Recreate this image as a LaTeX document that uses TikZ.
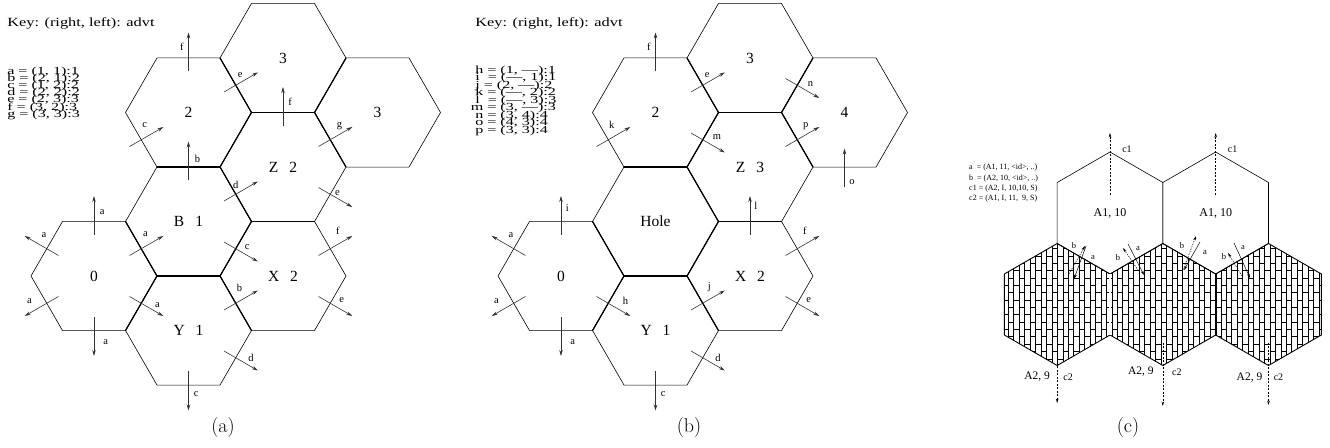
\documentclass[tikz,border=0pt]{standalone}
\usepackage{fontspec}
\newfontfamily\tms{Liberation Serif}
\usetikzlibrary{calc,patterns,arrows.meta}

% vertical bricks for the closed cells of (c)
\pgfdeclarepatternformonly{vbricks}{\pgfqpoint{-1pt}{-1pt}}{\pgfqpoint{12pt}{16pt}}{\pgfqpoint{10.9pt}{14.7pt}}{%
  \pgfsetlinewidth{0.5pt}%
  \pgfpathmoveto{\pgfqpoint{0pt}{0pt}}\pgfpathlineto{\pgfqpoint{0pt}{14.7pt}}%
  \pgfpathmoveto{\pgfqpoint{5.45pt}{0pt}}\pgfpathlineto{\pgfqpoint{5.45pt}{14.7pt}}%
  \pgfpathmoveto{\pgfqpoint{0pt}{0pt}}\pgfpathlineto{\pgfqpoint{5.45pt}{0pt}}%
  \pgfpathmoveto{\pgfqpoint{5.45pt}{7.35pt}}\pgfpathlineto{\pgfqpoint{10.9pt}{7.35pt}}%
  \pgfusepath{stroke}}

\tikzset{
  hexline/.style={line width=0.6pt},
  wallline/.style={line width=1.2pt},
  advt/.style={->, line width=0.6pt, black!80},
  lab/.style={font=\tms\fontsize{10.5}{12}\selectfont, inner sep=1pt, black},
  hexlab/.style={font=\tms\fontsize{15.5}{18}\selectfont, inner sep=0pt},
  keytext/.style={font=\tms\fontsize{12.5}{14}\selectfont, anchor=west, inner sep=0pt, xscale=1.31},
  listtext/.style={font=\tms\fontsize{10.8}{13}\selectfont, anchor=west, inner sep=0pt, xscale=1.49},
  subcap/.style={font=\fontsize{20}{24}\selectfont, inner sep=0pt},
  ckey/.style={font=\tms\fontsize{8}{10}\selectfont, anchor=west, inner sep=0pt},
  cname/.style={font=\tms\fontsize{12}{14}\selectfont, inner sep=0pt},
  cside/.style={font=\tms\fontsize{11.5}{13}\selectfont, inner sep=1pt},
  csmall/.style={font=\tms\fontsize{10}{12}\selectfont, inner sep=1pt},
  ctiny/.style={font=\tms\fontsize{8.5}{10}\selectfont, inner sep=0pt},
  cellline/.style={line width=0.6pt},
  brick/.style={line width=0.9pt, pattern=vbricks},
  cflow/.style={-{Stealth[length=4.5pt,width=2.6pt]}, line width=0.5pt, dash pattern=on 2pt off 1.5pt},
  cmsg/.style={-{Stealth[length=4.5pt,width=2.6pt]}, line width=0.5pt},
  cmsgb/.style={cmsg, dash pattern=on 1.5pt off 1.2pt}
}

\newcommand{\panelx}{0}
\newcommand{\hgap}{\hspace{11pt}}
% flat hexagon at axial place (q,r)
\newcommand{\hexf}[4]{%
  \node[hexlab] (#1) at ({\panelx+94+94.5*#2},{171+109*(#3)+54.5*#2}) {#4};
  \draw[hexline] (#1.center) ++(0:63) -- ++(120:63) -- ++(180:63) -- ++(240:63) -- ++(300:63) -- ++(0:63) -- cycle;}
% shared edge of two cells
\newcommand{\wall}[2]{\draw[wallline] ($(#1)!.5!(#2)!.5774!90:(#2)$) -- ($(#1)!.5!(#2)!.5774!-90:(#2)$);}
% advertisement out of / into a cell
\newcommand{\advt}[5]{\draw[advt] ($(#1)+(#2:41)$) -- ($(#1)+(#2:80)$) node[lab, pos=#5, #4] (#1-#2) {#3};}
\newcommand{\advtin}[5]{\draw[advt] ($(#1)+(#2:68)$) -- ($(#1)+(#2:29)$) node[lab, pos=#5, #4] (#1-in#2) {#3};}
% pointed hexagon for (c)
\newcommand{\hexp}[5]{%
  \node[cname] (#1) at (#2,#3) {#4};
  \draw[#5] (#1.center) ++(30:61) -- ++(150:61) -- ++(210:61) -- ++(270:61) -- ++(330:61) -- ++(30:61) -- cycle;}

\begin{document}
\begin{tikzpicture}[x=1pt, y=1pt, >={Stealth[length=6pt,width=3.5pt]}]
\useasboundingbox (0,0) rectangle (1330,447);

% (a)
\hexf{a0}{0}{0}{0}
\hexf{aB}{1}{0}{B\hgap1}
\hexf{aY}{1}{-1}{Y\hgap1}
\hexf{a2}{1}{1}{2}
\hexf{aX}{2}{-1}{X\hgap2}
\hexf{aZ}{2}{0}{Z\hgap2}
\hexf{aT}{2}{1}{3}
\hexf{aR}{3}{0}{3}
\foreach \p/\q in {a2/aT, a2/aZ, a2/aB, aT/aZ, aT/aR, aR/aZ, aZ/aB, aZ/aX, aB/a0, aB/aY, aB/aX, a0/aY, aY/aX}
  \wall{\p}{\q};
\advt{a2}{90}{f}{left=3.5pt}{.63}
\advt{a2}{30}{e}{above=3.5pt}{.48}
\advt{aZ}{90}{f}{right=4pt}{.63}
\advt{aZ}{30}{g}{above=3pt}{.62}
\advtin{a2}{210}{c}{above=9pt}{.45}
\advt{aB}{90}{b}{right=5pt}{.55}
\advt{aB}{30}{d}{above=4.5pt}{.35}
\advt{aZ}{330}{e}{above=2pt}{.56}
\advt{a0}{90}{a}{right=4.5pt}{.59}
\advt{a0}{150}{a}{above=8pt}{.43}
\advt{a0}{210}{a}{above=8pt}{.86}
\advt{a0}{270}{a}{right=8pt}{.65}
\advt{a0}{30}{a}{above=8pt}{.47}
\advt{a0}{330}{a}{above=4pt}{.83}
\advt{aB}{330}{c}{above=5pt}{.69}
\advt{aY}{30}{b}{above=8pt}{.46}
\advt{aX}{30}{f}{above=9pt}{.57}
\advt{aX}{330}{e}{above=6pt}{.69}
\advt{aY}{330}{d}{above=4pt}{.8}
\advt{aY}{270}{c}{right=4pt}{.57}
\node[keytext] (keya) at (7,424) {Key: (right, left): advt};
\foreach \t [count=\i] in {{a = (1, 1):1}, {b = (2, 1):2}, {c = (1, 2):2}, {d = (2, 2):2}, {e = (2, 3):3}, {f = (3, 2):3}, {g = (3, 3):3}}
  \node[listtext] (la\i) at (7,{375.3-7.15*(\i-1)}) {\t};
\node[subcap] (capa) at (223,19) {(a)};

% (b)
\renewcommand{\panelx}{467}
\hexf{b0}{0}{0}{0}
\hexf{bH}{1}{0}{Hole}
\hexf{bY}{1}{-1}{Y\hgap1}
\hexf{b2}{1}{1}{2}
\hexf{bX}{2}{-1}{X\hgap2}
\hexf{bZ}{2}{0}{Z\hgap3}
\hexf{bT}{2}{1}{3}
\hexf{b4}{3}{0}{4}
\foreach \p/\q in {b2/bT, b2/bZ, b2/bH, bT/bZ, bT/b4, b4/bZ, bZ/bH, bZ/bX, bH/b0, bH/bY, bH/bX, b0/bY, bY/bX}
  \wall{\p}{\q};
\advt{b2}{90}{f}{left=3.5pt}{.63}
\advt{b2}{30}{e}{above=3.5pt}{.48}
\advtin{b2}{210}{k}{above=8pt}{.45}
\advt{b2}{330}{m}{above=7pt}{.77}
\advt{bT}{330}{n}{above=5.5pt}{.74}
\advt{bZ}{30}{p}{above=4pt}{.6}
\draw[advt] ($(b4)+(270:75)$) -- ($(b4)+(270:36)$) node[lab, pos=.15, right=3.5pt] (b4-in270) {o};
\advt{b0}{90}{i}{right=3.5pt}{.69}
\advt{bX}{90}{l}{right=3pt}{.75}
\advt{b0}{150}{a}{above=8pt}{.43}
\advt{b0}{210}{a}{above=8pt}{.86}
\advt{b0}{270}{a}{right=8pt}{.65}
\advt{b0}{330}{h}{above=7pt}{.86}
\advt{bY}{30}{j}{above=6pt}{.54}
\advt{bX}{30}{f}{above=9pt}{.57}
\advt{bX}{330}{e}{above=6pt}{.69}
\advt{bY}{330}{d}{above=4pt}{.8}
\advt{bY}{270}{c}{right=4pt}{.57}
\node[keytext] (keyb) at (475,424) {Key: (right, left): advt};
\foreach \t [count=\i] in {{h = (1, —):1}, {i\ \ = (—, 1):1}, {j = (2, —):2}, {k = (—, 2):2}, {l\ \ = (—, 3):3}, {\kern-3pt m = (3, —):3}, {n = (3, 4):4}, {o = (4, 3):4}, {p = (3, 3):4}}
  \node[listtext] (lb\i) at (475,{376.3-7.5*(\i-1)}) {\t};
\node[subcap] (capb) at (689,19) {(b)};

% (c)
\hexp{cL}{1057.17}{142.5}{}{brick}
\hexp{cM}{1162.83}{142.5}{}{brick}
\hexp{cR}{1268.49}{142.5}{}{brick}
\hexp{cA}{1110}{234}{A1, 10}{cellline}
\hexp{cB}{1215.66}{234}{A1, 10}{cellline}
\draw[line width=0.5pt, double, double distance=1.3pt] ($(cL)+(30:61)$) -- ($(cL)+(330:61)$);
\draw[line width=2pt] ($(cM)+(30:61)$) -- ($(cM)+(330:61)$);
\draw[cflow] ($(cA)+(0,18)$) -- ($(cA)+(0,80)$) node[csmall, pos=.73, right=11pt] (c1a) {c1};
\draw[cflow] ($(cB)+(0,18)$) -- ($(cB)+(0,80)$) node[csmall, pos=.73, right=11pt] (c1b) {c1};
\draw[cflow] ($(cL)+(0,-37.5)$) -- ($(cL)+(0,-98.5)$)
  node[csmall, pos=.57, right=5pt] (c2l) {c2} node[cside, pos=.57, left=6pt] (sl) {A2, 9};
\draw[cflow] ($(cM)+(0,-38.5)$) -- ($(cM)+(0,-101.5)$)
  node[csmall, pos=.46, right=8pt] (c2m) {c2} node[cside, pos=.46, left=8pt] (sm) {A2, 9};
\draw[cflow] ($(cR)+(0,-38.5)$) -- ($(cR)+(0,-100.5)$)
  node[csmall, pos=.55, right=4pt] (c2r) {c2} node[cside, pos=.55, left=5pt] (sr) {A2, 9};
% messages across the walls
\draw[cmsg] (1086,201) -- (1074,168);
\draw[cmsgb] (1069,173) -- (1085,201);
\node[ctiny] (m1b) at (1074,201) {b};
\node[ctiny] (m1a) at (1093,189) {a};
\draw[cmsg] (1128,203) -- (1144,172);
\draw[cmsgb] (1140,174) -- (1123,199);
\node[ctiny] (m2a) at (1138,198) {a};
\node[ctiny] (m2b) at (1118,189) {b};
\draw[cmsg] (1200,205) -- (1184,177);
\draw[cmsgb] (1183,177) -- (1196,211);
\node[ctiny] (m3b) at (1182,201) {b};
\node[ctiny] (m3a) at (1205,194) {a};
\draw[cmsg] (1234,204) -- (1250,169);
\draw[cmsgb] (1242,171) -- (1228,194);
\node[ctiny] (m4b) at (1224,190) {b};
\node[ctiny] (m4a) at (1243,199) {a};
\foreach \t [count=\i] in {{a\ \ = (A1, 11, <id>, ..)}, {b\ \ = (A2, 10, <id>, ..)}, {c1 = (A2, I, 10,10, S)}, {c2 = (A1, I, 11,\ \ 9, S)}}
  \node[ckey] (kc\i) at (969,{279-10.3*(\i-1)}) {\t};
\node[subcap] (capc) at (1128,19) {(c)};
\end{tikzpicture}
\end{document}
